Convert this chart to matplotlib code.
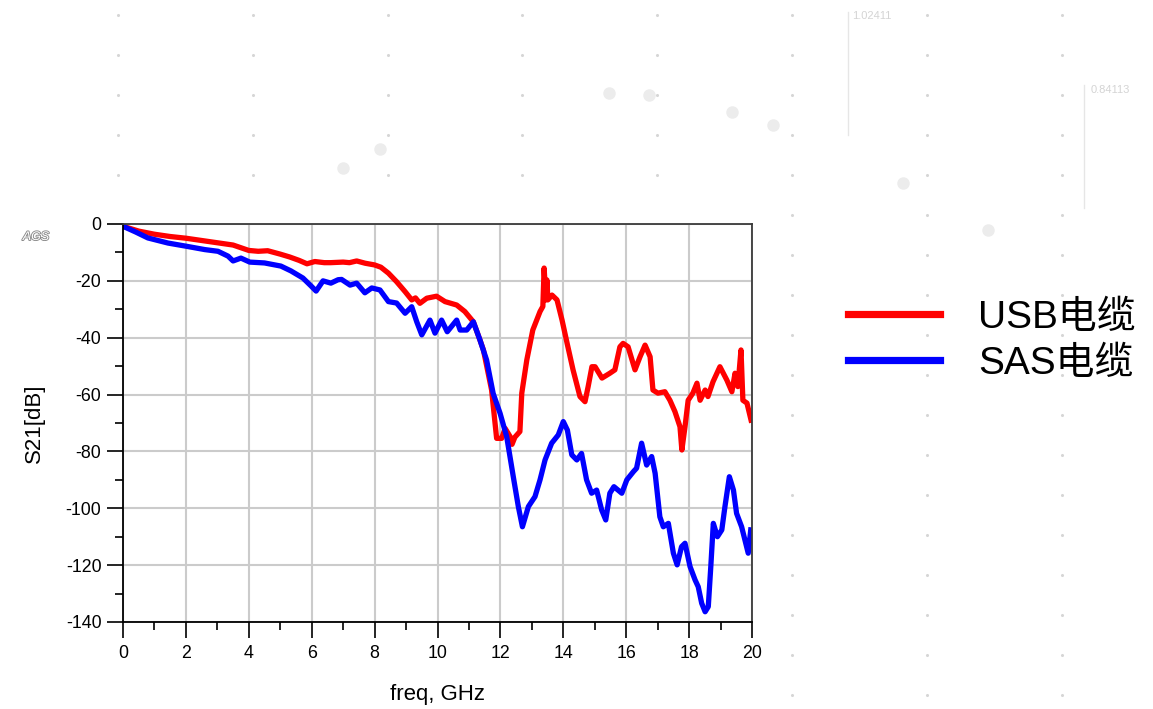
import matplotlib
matplotlib.use("Agg")
import matplotlib.pyplot as plt
import matplotlib.patheffects as pe
import numpy as np

# S21 (dB) vs. frequency (GHz), USB cable
freq_usb = [0.0, 0.5, 1.0, 1.5, 2.0, 2.5, 3.0, 3.5, 4.0, 4.3, 4.6, 5.0, 5.3, 5.6,
            5.85, 6.1, 6.4, 6.6, 7.0, 7.2, 7.43, 7.7, 8.0, 8.2, 8.44, 8.7, 8.97,
            9.18, 9.3, 9.44, 9.66, 9.97, 10.24, 10.61, 10.87, 11.14, 11.35, 11.46,
            11.72, 11.88, 12.04, 12.15, 12.31, 12.37, 12.46, 12.62, 12.68, 12.84,
            13.03, 13.26, 13.35, 13.39, 13.45, 13.48, 13.51, 13.64, 13.80, 13.96,
            14.12, 14.31, 14.53, 14.69, 14.79, 14.91, 15.01, 15.23, 15.48, 15.64,
            15.80, 15.90, 16.06, 16.28, 16.44, 16.60, 16.76, 16.85, 17.01, 17.23,
            17.39, 17.55, 17.71, 17.77, 17.87, 17.97, 18.12, 18.25, 18.35, 18.51,
            18.60, 18.76, 18.98, 19.20, 19.36, 19.46, 19.55, 19.65, 19.71, 19.84,
            19.97]
s21_usb = [-0.8, -2.5, -3.6, -4.4, -5.0, -5.8, -6.6, -7.4, -9.3, -9.6, -9.4, -10.6,
           -11.6, -12.8, -14.0, -13.2, -13.6, -13.6, -13.4, -13.6, -13.0, -13.8,
           -14.4, -15.2, -17.3, -20.3, -23.8, -26.7, -26.0, -27.9, -26.1, -25.4,
           -27.3, -28.5, -30.8, -34.4, -40.8, -44.3, -58.4, -75.4, -75.4, -71.9,
           -74.8, -77.5, -75.0, -73.0, -59.5, -47.8, -37.3, -30.8, -29.0, -15.5,
           -26.7, -19.7, -26.7, -25.0, -26.7, -33.8, -41.9, -51.3, -60.7, -62.5,
           -57.2, -50.2, -50.2, -54.2, -52.5, -51.3, -43.2, -42.0, -43.2, -51.3,
           -46.7, -42.6, -46.7, -58.4, -59.5, -59.0, -62.0, -66.0, -71.3, -79.5,
           -71.3, -62.0, -59.5, -56.0, -62.0, -58.4, -60.7, -55.5, -50.2, -54.9,
           -59.0, -52.5, -57.2, -44.3, -62.0, -63.0, -69.0]

# S21 (dB) vs. frequency (GHz), SAS cable
freq_sas = [0.0, 0.4, 0.79, 1.43, 2.0, 2.6, 3.02, 3.34, 3.5, 3.75, 4.03, 4.5, 5.02,
            5.34, 5.72, 5.98, 6.14, 6.36, 6.61, 6.84, 6.95, 7.22, 7.43, 7.69, 7.91,
            8.17, 8.44, 8.70, 8.97, 9.18, 9.34, 9.50, 9.76, 9.92, 10.13, 10.31,
            10.61, 10.72, 10.93, 11.14, 11.35, 11.56, 11.77, 11.99, 12.2, 12.41,
            12.57, 12.70, 12.89, 13.10, 13.26, 13.42, 13.63, 13.84, 14.0, 14.13,
            14.27, 14.43, 14.58, 14.74, 14.90, 15.06, 15.22, 15.35, 15.48, 15.61,
            15.86, 16.02, 16.23, 16.33, 16.49, 16.65, 16.81, 16.92, 17.07, 17.18,
            17.34, 17.50, 17.62, 17.76, 17.87, 18.03, 18.19, 18.29, 18.40, 18.51,
            18.61, 18.69, 18.77, 18.90, 19.04, 19.14, 19.28, 19.41, 19.51, 19.67,
            19.88, 19.96]
s21_sas = [-0.8, -2.8, -4.9, -6.7, -7.8, -9.0, -9.6, -11.3, -13.0, -12.0, -13.4,
           -13.7, -14.8, -16.5, -19.0, -21.8, -23.6, -20.0, -20.8, -19.6, -19.5,
           -21.5, -20.8, -24.2, -22.5, -23.2, -27.3, -27.8, -31.4, -29.1, -34.4,
           -39.0, -33.8, -38.4, -33.8, -37.9, -33.8, -37.3, -37.3, -34.4, -40.8,
           -47.8, -59.6, -66.6, -74.8, -88.9, -99.4, -106.5, -99.4, -95.9, -90.0,
           -83.0, -77.1, -74.2, -69.5, -72.5, -81.2, -83.0, -80.7, -90.0, -94.7,
           -93.6, -100.6, -104.1, -94.7, -92.4, -94.7, -90.0, -87.1, -85.9, -77.1,
           -84.8, -81.8, -87.7, -103.0, -106.5, -105.3, -115.8, -119.9, -113.5,
           -112.3, -120.5, -125.2, -127.6, -133.4, -136.4, -134.6, -120.5, -105.3,
           -110.0, -107.6, -99.4, -88.9, -93.6, -101.8, -106.5, -115.8, -107.6]

labels = ["USB电缆", "SAS电缆"]
colors = ["#ff0000", "#0000ff"]

W, H = 1153, 709
plt.rcParams["font.family"] = ["Liberation Sans", "Noto Sans CJK SC", "DejaVu Sans"]
plt.rcParams["axes.unicode_minus"] = False

fig = plt.figure(figsize=(W / 100, H / 100), dpi=100, facecolor="white")

# faint slide background: dot grid, a few soft blobs, marker readouts
bg = fig.add_axes([0, 0, 1, 1], zorder=-5)
bg.set_xlim(0, W)
bg.set_ylim(H, 0)
bg.axis("off")
gx = 118 + 134.8 * np.arange(8)
gy = 15 + 40 * np.arange(18)
for x in gx:
    for y in gy:
        if x < 780 and y > 190:
            continue
        bg.plot(x, y, "o", ms=2.2, color="#d6d6d6", mec="none")
blobs = [(609, 93), (649, 95), (732, 112), (773, 125), (380, 149), (343, 168),
         (903, 183), (988, 230)]
for x, y in blobs:
    bg.plot(x, y, "o", ms=9, color="#ececec", mec="none")
bg.plot([848, 848], [12, 135], color="#e6e6e6", lw=1)
bg.plot([1084, 1084], [85, 208], color="#e6e6e6", lw=1)
bg.text(852, 16, "1.02411", fontsize=8, color="#d4d4d4", va="center")
bg.text(1091, 90, "0.84113", fontsize=8, color="#d4d4d4", va="center")
bg.add_patch(plt.Rectangle((0, 195), 782, H - 195, color="white", lw=0))

ax = fig.add_axes([123 / W, 1 - 622 / H, 629 / W, 398 / H])
ax.plot(freq_usb, s21_usb, color=colors[0], lw=3.8, label=labels[0],
        solid_joinstyle="round")
ax.plot(freq_sas, s21_sas, color=colors[1], lw=3.8, label=labels[1],
        solid_joinstyle="round")

ax.set_xlim(0, 20)
ax.set_ylim(-140, 0)
ax.set_xticks(np.arange(0, 21, 2))
ax.set_xticks(np.arange(1, 20, 2), minor=True)
ax.set_yticks(np.arange(-140, 1, 20))
ax.set_yticks(np.arange(-130, 0, 20), minor=True)
ax.grid(True, which="major", color="#cbcbcb", lw=1.5)
ax.set_axisbelow(True)
ax.tick_params(which="major", direction="out", length=11.5, width=1.2,
               labelsize=12.8, pad=4, colors="black")
ax.tick_params(which="minor", direction="out", length=5.8, width=1.2)
ax.tick_params(axis="x", which="major", pad=5)
for side in ("left", "bottom"):
    ax.spines[side].set_color("black")
    ax.spines[side].set_linewidth(1.3)
for side in ("top", "right"):
    ax.spines[side].set_color("#3a3a3a")
    ax.spines[side].set_linewidth(1.3)

ax.set_xlabel("freq, GHz", fontsize=16)
ax.xaxis.set_label_coords(0.5, (622 - 684) / 398)
ax.set_ylabel("S21[dB]", fontsize=16)
ax.yaxis.set_label_coords((34 - 123) / 629, 0.5)
ax.yaxis.label.set_verticalalignment("center")

ax.text((36 - 123) / 629, (622 - 237) / 398, "AGS", transform=ax.transAxes,
        fontsize=9, color="white", ha="center", va="center", style="italic",
        path_effects=[pe.withStroke(linewidth=1.3, foreground="#8a8a8a")])

leg = fig.legend(loc="center left", bbox_to_anchor=(848 / W, 1 - 341 / H),
                 frameon=False, fontsize=28, handlelength=2.37,
                 handletextpad=0.98, labelspacing=0.26, borderpad=0,
                 borderaxespad=0)
for ln in leg.get_lines():
    ln.set_linewidth(5.2)

fig.savefig("out.png", dpi=100, facecolor="white")
